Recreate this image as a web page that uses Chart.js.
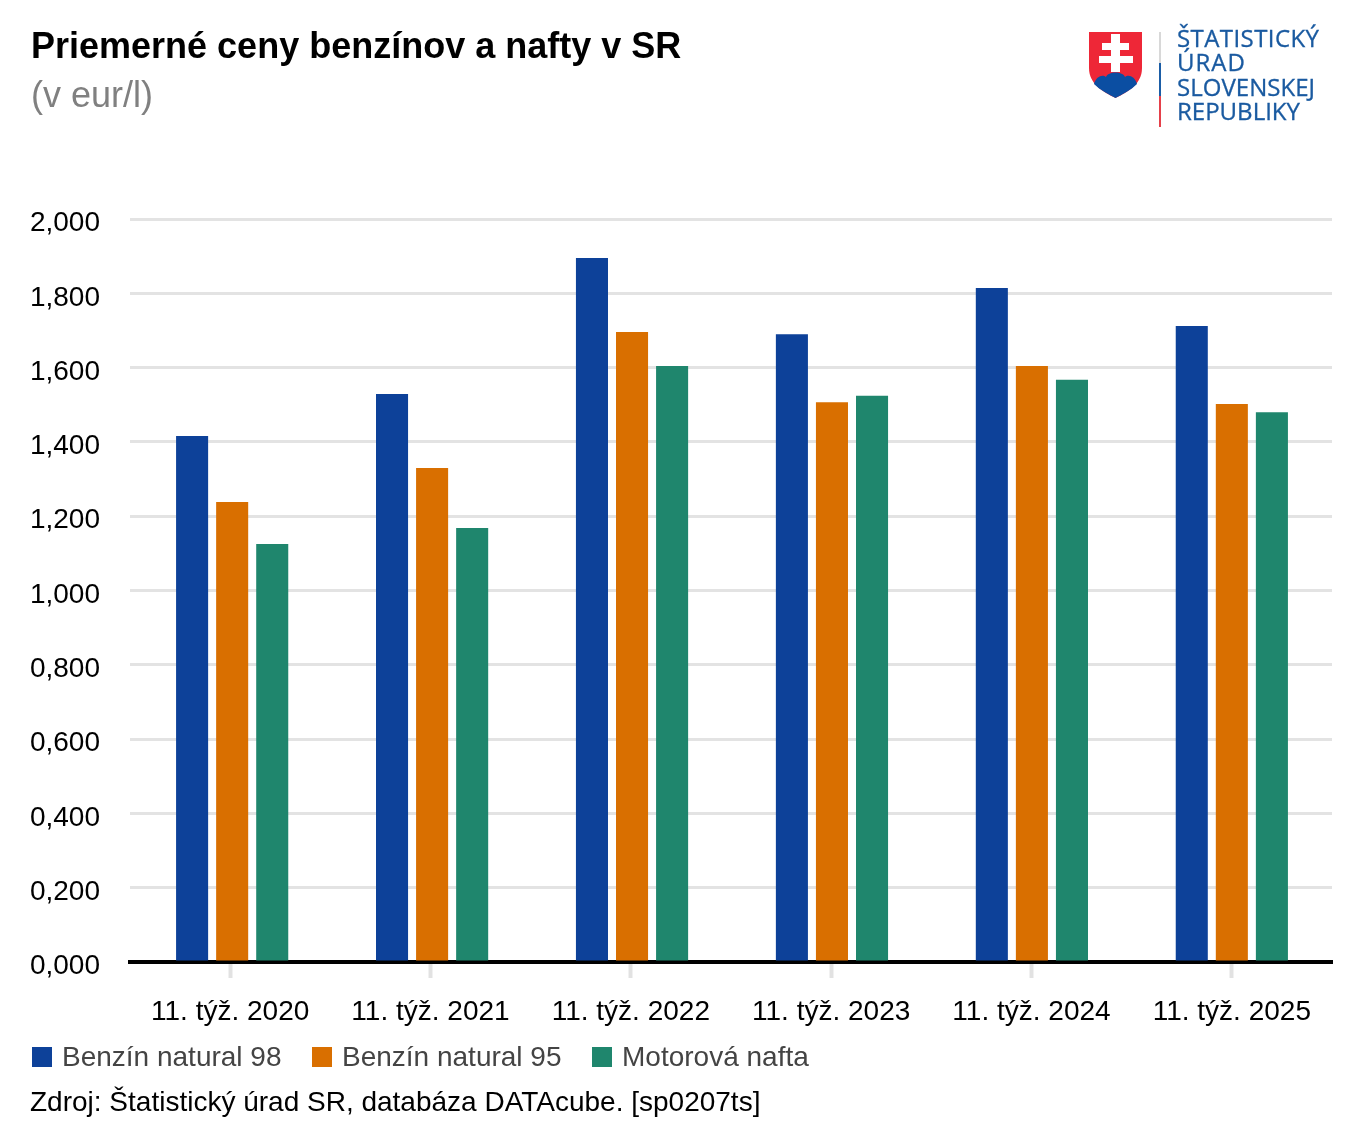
<!DOCTYPE html>
<html lang="sk">
<head>
<meta charset="utf-8">
<title>Priemerné ceny benzínov a nafty v SR</title>
<script src="https://cdn.jsdelivr.net/npm/chart.js@4"></script>
<style>
  html, body { margin: 0; padding: 0; background: #fff; }
  #page { position: relative; width: 1362px; height: 1140px; overflow: hidden; font-family: "Liberation Sans", Arial, sans-serif; }
  #chart { position: absolute; left: 0; top: 0; }
  .txt { position: absolute; white-space: nowrap; line-height: 1; }
  #title { left: 31px; top: 28px; font-size: 36px; font-weight: bold; color: #000; }
  #sub { left: 31px; top: 77px; font-size: 36px; color: #808080; }
  #source { left: 30px; top: 1088px; font-size: 28px; color: #000; }
  #legend { position: absolute; left: 32px; top: 1043px; display: flex; gap: 30.500px; font-size: 28px; line-height: 28px; color: #444; }
  #legend div { display: flex; align-items: center; gap: 10px; white-space: nowrap; }
  #legend i { display: block; width: 20px; height: 20px; }
  #logo { position: absolute; left: 1080px; top: 20px; }
  #logo text { font-family: "Open Sans", sans-serif; font-size: 24px; fill: #1a5aa0; stroke: #1a5aa0; stroke-width: 0.300px; }
</style>
</head>
<body>
<div id="page">
  <canvas id="chart" width="1362" height="1140"></canvas>
  <div class="txt" id="title">Priemerné ceny benzínov a nafty v SR</div>
  <div class="txt" id="sub">(v eur/l)</div>
  <div id="legend"></div>
  <div class="txt" id="source">Zdroj: Štatistický úrad SR, databáza DATAcube. [sp0207ts]</div>
  <svg id="logo" width="260" height="115" viewBox="1080 20 260 115">
    <path d="M1089 32 H1142 V68 C1142 84 1128 92 1115.500 98 C1103 92 1089 84 1089 68 Z" fill="#ee2737"/>
    <path d="M1094 84 C1096 76 1103 74 1106 77 C1108 71 1123 71 1125 77 C1128 74 1135 76 1137 84 C1131 90 1123 94 1115.500 98 C1108 94 1100 90 1094 84 Z" fill="#0b4ea2"/>
    <path d="M1111 34 H1120 V43 H1129 V50 H1120 V56 H1133 V63 H1120 V72 H1111 V63 H1099 V56 H1111 V50 H1102 V43 H1111 Z" fill="#fff"/>
    <rect x="1159" y="32" width="2" height="31" fill="#d8d8d8"/>
    <rect x="1159" y="63" width="2" height="33" fill="#1b5da6"/>
    <rect x="1159" y="96" width="2" height="31" fill="#e5404a"/>
    <text x="1177" y="47" textLength="142">ŠTATISTICKÝ</text>
    <text x="1177" y="71" textLength="68">ÚRAD</text>
    <text x="1177" y="96" textLength="138">SLOVENSKEJ</text>
    <text x="1177" y="120" textLength="123">REPUBLIKY</text>
  </svg>
</div>
<script>
const categories = ['11. týž. 2020', '11. týž. 2021', '11. týž. 2022', '11. týž. 2023', '11. týž. 2024', '11. týž. 2025'];
const natural98 = [1.416, 1.529, 1.895, 1.690, 1.814, 1.712];
const natural95 = [1.238, 1.330, 1.696, 1.507, 1.604, 1.502];
const nafta = [1.125, 1.168, 1.604, 1.524, 1.567, 1.480];

const fontFamily = '"Liberation Sans", Arial, sans-serif';

// stĺpce sú v origináli voči značkám osi posunuté o 2 px vľavo, o 0 px vpravo
const shiftBars = {
  id: 'shiftBars',
  afterDatasetsUpdate(chart) {
    chart.data.datasets.forEach((ds, i) => {
      const bars = chart.getDatasetMeta(i).data;
      bars.forEach((bar, k) => { bar.x += 2 * (1 - k / (bars.length - 1)); });
    });
  },
};

const chart = new Chart(document.getElementById('chart').getContext('2d'), {
  type: 'bar',
  plugins: [shiftBars],
  data: {
    labels: categories,
    datasets: [
      { label: 'Benzín natural 98', data: natural98, backgroundColor: '#0d4199' },
      { label: 'Benzín natural 95', data: natural95, backgroundColor: '#d96f00' },
      { label: 'Motorová nafta', data: nafta, backgroundColor: '#1f866d' },
    ],
  },
  options: {
    responsive: false,
    animation: false,
    devicePixelRatio: 1,
    barPercentage: 0.8,
    categoryPercentage: 0.6,
    layout: { padding: { left: 0, right: 30, top: 219, bottom: 108 } },
    scales: {
      x: {
        afterFit(scale) { scale.height = 70; },
        grid: { offset: false, drawOnChartArea: false, tickLength: 16, tickWidth: 4, tickColor: '#e2e2e2' },
        border: { color: '#000', width: 4 },
        ticks: {
          padding: 17, color: '#000', maxRotation: 0, autoSkip: false,
          font: { family: fontFamily, size: 28 },
        },
      },
      y: {
        min: 0,
        max: 2,
        afterFit(scale) { scale.width = 130; },
        grid: { color: '#e3e3e3', lineWidth: 3, drawTicks: false },
        border: { display: false },
        ticks: {
          stepSize: 0.2, padding: 30, color: '#000',
          // prázdny prvý riadok posunie popisok mierne pod čiaru mriežky
          font: { family: fontFamily, size: 28, lineHeight: '9px' },
          callback: val => ['', val.toFixed(3).replace('.', ',')],
        },
      },
    },
    plugins: {
      tooltip: { enabled: false },
      legend: { display: false },
    },
  },
});

// legenda ako HTML, medzery medzi značkou a textom sú menšie než v Chart.js
const legend = document.getElementById('legend');
chart.data.datasets.forEach(ds => {
  const item = document.createElement('div');
  const box = document.createElement('i');
  box.style.background = ds.backgroundColor;
  item.append(box, ds.label);
  legend.append(item);
});
</script>
</body>
</html>
